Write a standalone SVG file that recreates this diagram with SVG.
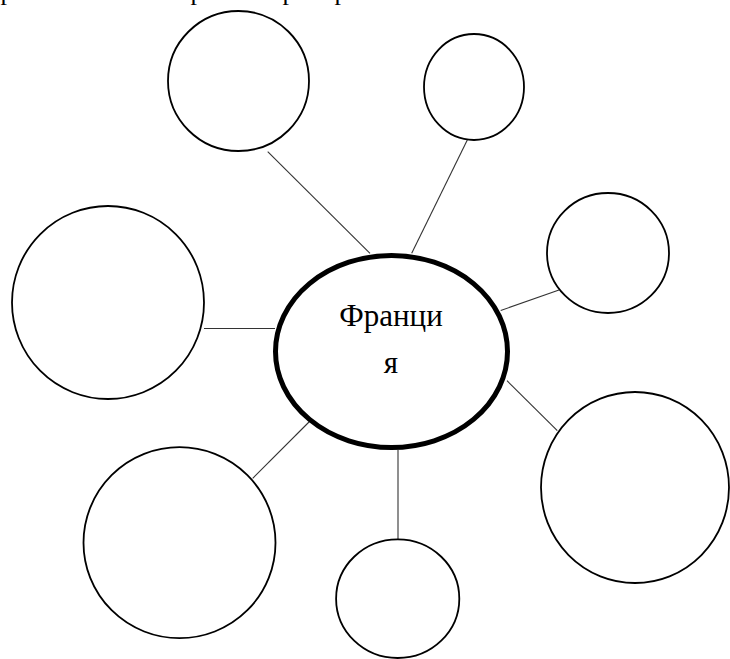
<svg xmlns="http://www.w3.org/2000/svg" width="730" height="659" viewBox="0 0 730 659">
<style>
.node{fill:#ffffff;stroke:#000000;stroke-width:1.8}
.main{fill:#ffffff;stroke:#000000;stroke-width:5}
.conn{stroke:#333333;stroke-width:1.1;fill:none}
.lbl{font-family:"Liberation Serif","Times New Roman",serif;font-size:31px;fill:#000000;text-anchor:middle}
.cut{font-family:"Liberation Serif","Times New Roman",serif;font-size:26px;fill:#000000;text-anchor:middle}
</style>
<rect x="0" y="0" width="730" height="659" fill="#ffffff"/>
<g id="cut-text">
<text class="cut" x="7" y="0">р</text>
<text class="cut" x="197" y="0">р</text>
<text class="cut" x="289" y="0">р</text>
<text class="cut" x="341" y="0">р</text>
</g>
<g id="connectors">
<line class="conn" x1="267.7" y1="151.7" x2="370" y2="253.3"/>
<line class="conn" x1="467.3" y1="140" x2="411.7" y2="253.3"/>
<line class="conn" x1="559" y1="290" x2="500.7" y2="310.5"/>
<line class="conn" x1="204" y1="328.5" x2="275" y2="328.5"/>
<line class="conn" x1="507" y1="380.7" x2="557.3" y2="430.7"/>
<line class="conn" x1="252.7" y1="478.3" x2="315" y2="416"/>
<line class="conn" x1="398" y1="450" x2="398" y2="539.3"/>
</g>
<g id="node-top-left"><ellipse class="node" cx="238.5" cy="81" rx="70.5" ry="70"/></g>
<g id="node-top-right"><ellipse class="node" cx="474" cy="87" rx="50" ry="53"/></g>
<g id="node-right-top"><ellipse class="node" cx="608" cy="253" rx="61" ry="60"/></g>
<g id="node-left"><ellipse class="node" cx="108" cy="302.5" rx="96" ry="96.5"/></g>
<g id="node-right-bottom"><ellipse class="node" cx="635" cy="487.5" rx="94" ry="95.5"/></g>
<g id="node-bottom-left"><ellipse class="node" cx="179.5" cy="542.7" rx="96" ry="95.5"/></g>
<g id="node-bottom"><ellipse class="node" cx="397.7" cy="598.7" rx="61.6" ry="59.3"/></g>
<g id="node-main">
<ellipse class="main" cx="391.5" cy="351.5" rx="116" ry="96"/>
<text class="lbl" x="391" y="326">Франци</text>
<text class="lbl" x="391" y="373">я</text>
</g>
</svg>
